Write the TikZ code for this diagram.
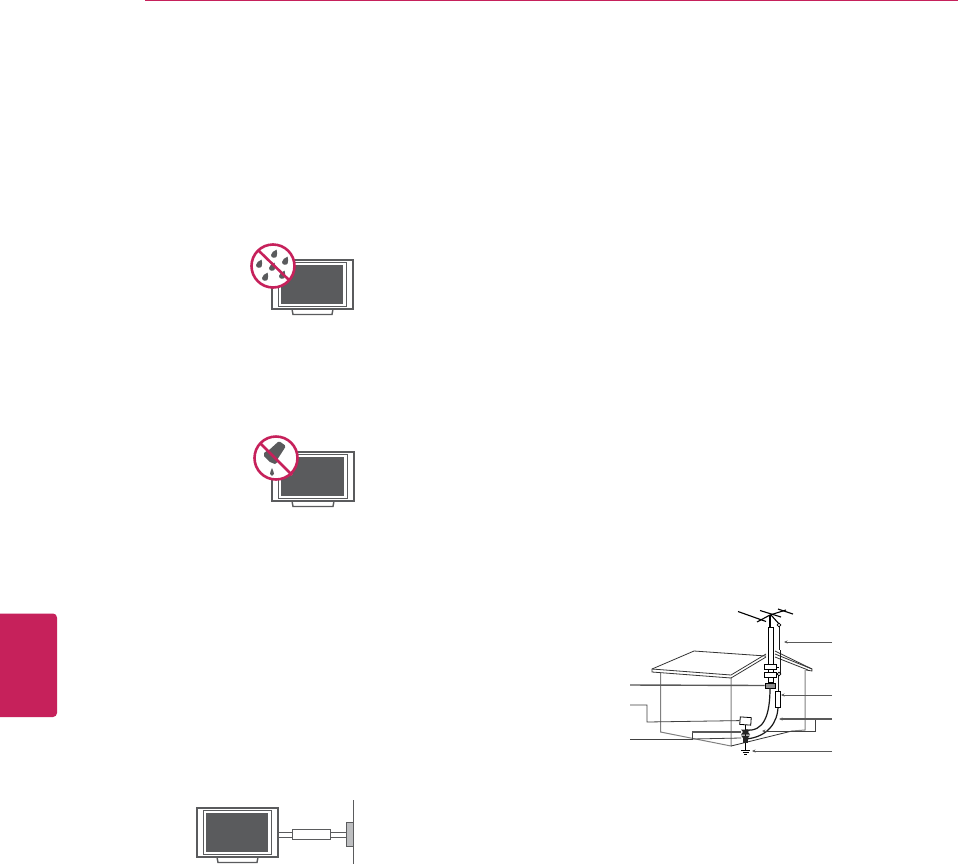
\documentclass[tikz,border=0pt]{standalone}
\usetikzlibrary{arrows.meta}
\definecolor{lgpink}{HTML}{C6215B}
\definecolor{tvgray}{HTML}{5A5B5D}
\definecolor{plate}{HTML}{BDBEC0}
\tikzset{
  x=1pt,y=-1pt,
  tvline/.style={draw=tvgray,line width=1.9pt,fill=white},
  tvframe/.style={draw=tvgray,line width=0.8pt,fill=white},
  tvscreen/.style={fill=tvgray},
  prohibit/.style={draw=lgpink,line width=2.6pt},
  droplet/.style={fill=tvgray},
  house/.style={draw=black!80,line width=0.8pt},
  wall/.style={draw=black!50,line width=1pt},
  leader/.style={draw=black!75,line width=0.8pt},
  leaderthick/.style={draw=black!65,line width=1.4pt},
  ptr/.style={-{Stealth[length=3.5pt,width=3pt]},draw=black!65,line width=0.7pt},
  wire/.style={draw=black!90,line width=1pt},
  hw/.style={fill=black!85}
}
\newcommand{\tvset}[6]{% x1 y1 x2 y2 stand-left stand-right
  \draw[tvline,line width=1.4pt] (#5,#4) -- (#5+1,#4+5.5) -- (#6-1,#4+5.5) -- (#6,#4);
  \draw[tvline] (#1,#2) rectangle (#3,#4);
  \draw[tvframe] (#1+6.5,#2+2.5) rectangle (#3-7,#4-2.5);
  \fill[tvscreen] (#1+9,#2+5) rectangle (#3-10,#4-5);
}
\newcommand{\dropat}[2]{%
  \fill[droplet] (#1+2.6,#2-5.4) .. controls (#1+3,#2-2.6) and (#1+3.6,#2-0.5) .. (#1+2.6,#2+1.6)
    .. controls (#1+1.2,#2+3.6) and (#1-3,#2+3.2) .. (#1-3,#2+0)
    .. controls (#1-3,#2-2.4) and (#1,#2-4.2) .. (#1+2.6,#2-5.4) -- cycle;
}
\begin{document}
\begin{tikzpicture}
\useasboundingbox (0,0) rectangle (958,865);
\fill[white] (0,0) rectangle (958,865);
% header rule and side tab
\fill[lgpink] (145,0) rectangle (958,1);
\fill[lgpink] (0,613.5) -- (53,613.5) arc[start angle=90,end angle=0,x radius=4,y radius=-4] -- (57,713) arc[start angle=0,end angle=-90,x radius=4,y radius=-4] -- (0,717) -- cycle;
% TV 1
\tvset{272}{260}{353}{309}{292}{333}
\fill[white] (273,266) circle[radius=21.5];
\dropat{274}{255}\dropat{259}{265}\dropat{285}{262}\dropat{272}{268}\dropat{265}{278}\dropat{282}{276}
\draw[prohibit] (273,266) circle[radius=21.5];
\draw[prohibit] (258,250) -- (289,280);
% TV 2
\tvset{272}{452}{354}{501}{292}{334}
\fill[white] (276,458) circle[radius=21.5];
\fill[tvgray,rounded corners=1.5pt] (279,441) -- (286,446) -- (277,460) -- (268,451) -- cycle;
\fill[tvgray] (268,450) -- (279,461) -- (275,464) -- (270,462) -- (264,456) -- (264,453) -- cycle;
\draw[white,line width=0.6pt] (268,451) -- (277,460);
\fill[tvgray] (272,468) .. controls (272.5,471) and (274.5,472) .. (274,474) .. controls (273.5,476.5) and (270.5,476.5) .. (270,474) .. controls (269.5,472) and (271.5,471) .. (272,468) -- cycle;
\draw[white,line width=1.2pt] (260,443) -- (292,475);
\draw[prohibit] (276,458) circle[radius=21.5];
\draw[prohibit] (260,443) -- (292,475);
% TV 3 with isolator and wall plate
\tvset{197}{808}{278}{857}{217}{258}
\coordinate (tvR1) at (278,832.5);
\coordinate (tvR2) at (278,837);
\node[draw=tvgray,line width=0.8pt,fill=white,minimum width=38pt,minimum height=10pt,inner sep=0pt,anchor=center] (iso) at (311,834.5) {};
\node[draw=tvgray,line width=0.8pt,fill=plate,minimum width=7pt,minimum height=24pt,inner sep=0pt,anchor=center] (wallplate) at (349.5,834) {};
\draw[draw=tvgray,line width=0.7pt] (tvR1) -- (iso.west |- tvR1) (tvR2) -- (iso.west |- tvR2);
\draw[draw=tvgray,line width=0.7pt] (iso.east |- tvR1) -- (wallplate.west |- tvR1) (iso.east |- tvR2) -- (wallplate.west |- tvR2);
\draw[draw=tvgray,line width=0.8pt] (353.5,800) -- (353.5,864);
% house walls
\draw[wall] (660.5,673) -- (660.5,732) -- (731,746) -- (731,677);
\draw[wall] (805,670) -- (805,730) -- (792,731);
\draw[house] (731,746) -- (792,731);
% roof
\fill[white] (652,669) -- (694,651) -- (766,656) -- (731,676) -- cycle;
\draw[house] (766,656) -- (694,651) -- (652,669) -- (652,672) -- (731,678) -- (766,657);
\draw[house] (652,669) -- (731,675) -- (766,654);
\draw[house] (775,654) -- (812,669) -- (812,671) -- (806,670);
\draw[house] (775,657) -- (808,670);
\draw[house] (775,651) -- (812,669);
% antenna
\draw[draw=black,line width=1.1pt] (738,611.5) -- (766,621.5);
\draw[draw=black,line width=1.1pt] (760,610.5) -- (781,617);
\draw[draw=black,line width=1.1pt] (778,609) -- (793,614);
\draw[draw=black,line width=1.1pt] (786,610) -- (770,615) -- (757,622);
\draw[draw=black,line width=1.1pt] (771,615) -- (780,625);
\draw[draw=black,line width=1.4pt] (770,615) -- (770,627);
% mast
\draw[fill=white,draw=black,line width=1pt] (768,627) -- (773,627) -- (773,682) -- (768,682) -- cycle;
\draw[wire] (779,625) -- (779,650) (780,650) -- (780,674) (778,674) -- (778,695);
\fill[white,draw=black,line width=0.7pt] (779,625) circle[radius=1.8];
\fill[white,draw=black,line width=0.7pt] (779,674) circle[radius=1.8];
% stand-offs
\node[draw=black,line width=0.9pt,fill=white,minimum width=12pt,minimum height=5pt,inner sep=0pt] (so1) at (770,666.5) {};
\node[draw=black,line width=0.9pt,fill=white,minimum width=12pt,minimum height=5pt,inner sep=0pt] (so2) at (770,675) {};
\draw[black,line width=0.7pt] (776,674.5) -- (778,674.5);
\draw[black,line width=0.7pt] (776,667) -- (779,667);
% lead-in clamp and cables
\node[draw=black,line width=0.7pt,fill=black!45,minimum width=10pt,minimum height=5pt,inner sep=0pt] (clamp) at (770,685.5) {};
\draw[wire,line width=1.2pt] (770,688) .. controls (770,715) and (764,732) .. (746,730);
\draw[wire,line width=1.2pt] (778,706) .. controls (778,722) and (768,737) .. (746,739);
\node[draw=black,line width=0.9pt,fill=white,minimum width=4.5pt,minimum height=16pt,inner sep=0pt] (disch) at (778,699) {};
% service box and ground clamps
\node[draw=black,line width=0.8pt,fill=white,minimum width=11pt,minimum height=7.5pt,inner sep=0pt,rotate=-4] (box) at (745.5,721) {};
\draw[black,line width=1pt] (745.5,725) -- (745.5,751);
\fill[hw] (741,729.5) -- (750,729.5) -- (748,732) -- (750,734.5) -- (741,734.5) -- (743,732) -- cycle;
\fill[hw] (741,735.5) -- (750,735.5) -- (745.5,741) -- cycle;
\fill[hw] (743,736) rectangle (748,743);
\draw[black,line width=1.2pt] (741,750.5) -- (750,750.5);
\draw[black,line width=1pt] (742.5,752.5) -- (748.5,752.5);
\draw[black,line width=0.8pt] (744,754) -- (747,754);
% leaders
\coordinate (L1) at (630,685);
\coordinate (L2) at (630,705);
\coordinate (L3) at (630,739);
\coordinate (R1) at (832,642);
\coordinate (R2) at (832,695);
\coordinate (R3) at (832,719);
\coordinate (R4) at (832,751);
\draw[leaderthick] (L1) -- (clamp.west);
\draw[leader] (L2) -- (647,705) -- (647,722) -- (box.west);
\draw[leader] (L3) -- (692,739) -- (692,732);
\draw[leaderthick] (692,732) -- (741,732);
\draw[leader] (692,739) -- (741,738);
\draw[ptr] (R1) -- (784,642);
\draw[ptr] (R2) -- (781,695);
\draw[leaderthick] (R3) -- (782,719);
\draw[ptr] (782,719) -- (779,719);
\draw[leader] (815,720) -- (815,731) -- (766,731);
\draw[ptr] (766,731) -- (762,731);
\draw[ptr] (R4) -- (752,751);
\end{tikzpicture}
\end{document}
